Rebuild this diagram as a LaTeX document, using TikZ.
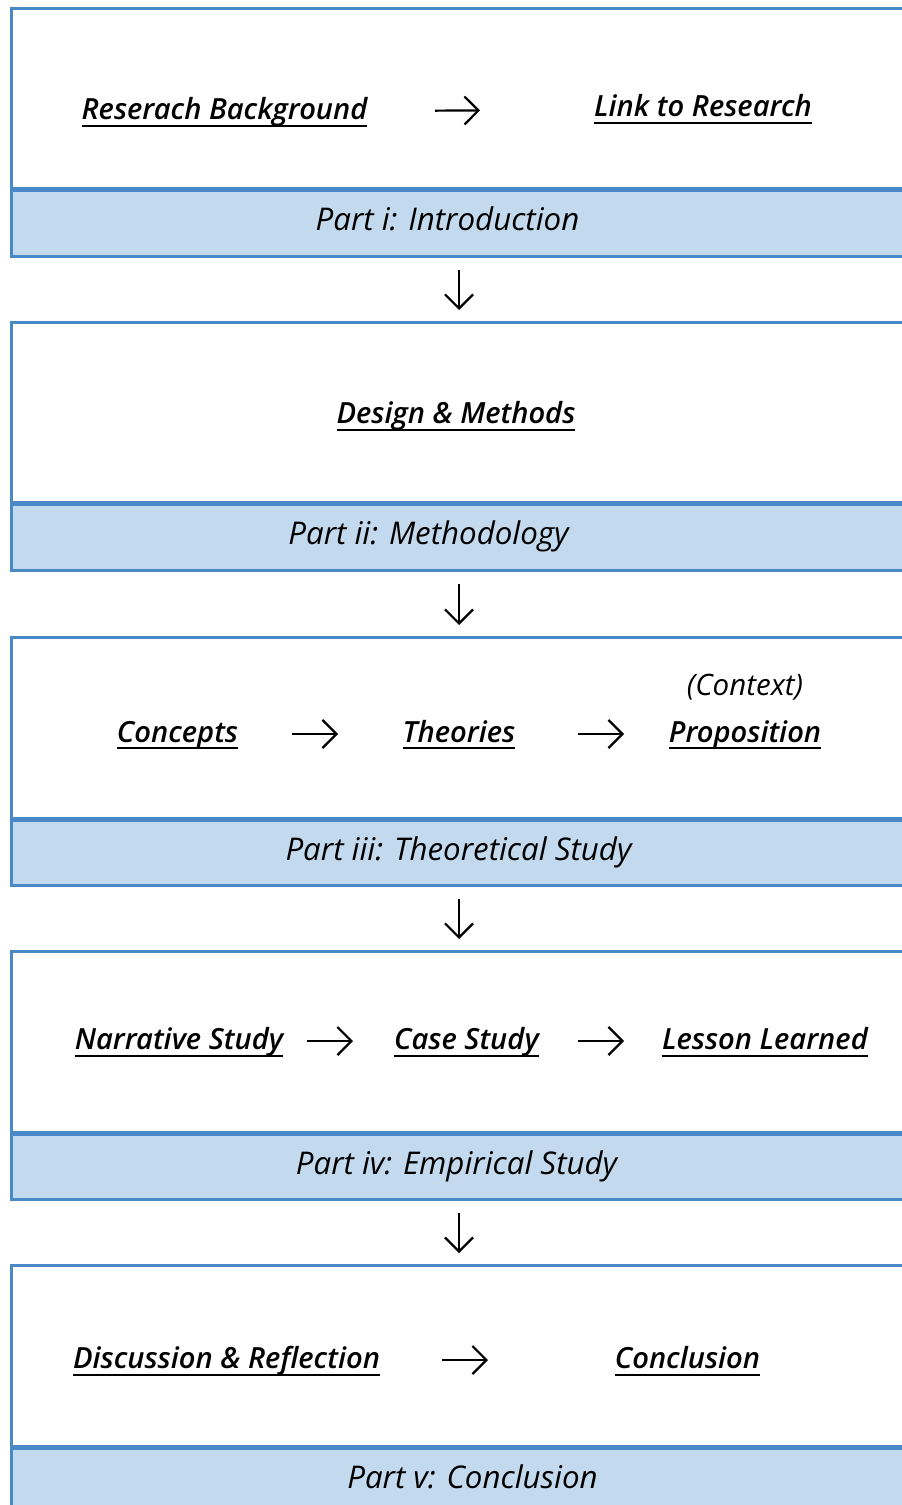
\documentclass[tikz,border=0pt]{standalone}
\usepackage{fontspec}
\setmainfont{Open Sans}[BoldFont={Open Sans Semibold}, BoldItalicFont={Open Sans Semibold Italic}]
\usetikzlibrary{arrows.meta}

\definecolor{frameblue}{HTML}{4A89C8}
\definecolor{bandblue}{HTML}{C3D9EE}

\newsavebox{\ulbox}
\newcommand{\ulabel}[1]{\sbox{\ulbox}{#1}\rlap{\rule[-0.075cm]{\wd\ulbox}{0.02cm}}\usebox{\ulbox}}

\begin{document}
\begin{tikzpicture}[
  frame/.style={draw=frameblue, line width=0.03cm, anchor=north west, inner sep=0pt,
                minimum width=9.2cm, minimum height=2.48cm},
  band/.style={fill=bandblue, anchor=north west, inner sep=0pt,
               minimum width=9.2cm, minimum height=0.65cm},
  sep/.style={draw=frameblue, line width=0.05cm},
  lbl/.style={font=\fontsize{8.3}{10}\selectfont\bfseries\itshape, inner sep=0pt,
              text height=0.22cm, text depth=0.06cm, anchor=base},
  part/.style={font=\fontsize{8.9}{11}\selectfont\itshape, inner sep=0pt, anchor=base},
  flow/.style={-{Straight Barb[length=1.4mm, width=2.8mm]}, line width=0.022cm},
  down/.style={flow, shorten <=0.14cm, shorten >=0.11cm}]
  \useasboundingbox (0,0) rectangle (9.01,-15.05);
  \coordinate (spine) at (4.59,0);

  % part i
  \node[band] (b1) at (0.105,-1.90) {};
  \node[frame] (p1) at (0.105,-0.07) {};
  \draw[sep] (b1.north west) -- (b1.north east);
  \node[part] (t1) at (4.475,-2.31) {Part i: Introduction};
  \node[lbl] (rb) at (2.245,-1.20) {\ulabel{Reserach Background}};
  \node[lbl] (lr) at (7.03,-1.17) {\ulabel{Link to Research}};
  \draw[flow, shorten <=2.105cm, shorten >=2.23cm] (rb.center) -- (lr.center);

  % part ii
  \node[band] (b2) at (0.105,-5.04) {};
  \node[frame] (p2) at (0.105,-3.21) {};
  \draw[sep] (b2.north west) -- (b2.north east);
  \node[part] (t2) at (4.285,-5.45) {Part ii: Methodology};
  \node[lbl] (dm) at (4.56,-4.24) {\ulabel{Design \& Methods}};
  \draw[down] (b1.south -| spine) -- (p2.north -| spine);

  % part iii
  \node[band] (b3) at (0.105,-8.19) {};
  \node[frame] (p3) at (0.105,-6.36) {};
  \draw[sep] (b3.north west) -- (b3.north east);
  \node[part] (t3) at (4.585,-8.60) {Part iii: Theoretical Study};
  \node[lbl] (co) at (1.775,-7.42) {\ulabel{Concepts}};
  \node[lbl] (th) at (4.59,-7.42) {\ulabel{Theories}};
  \node[lbl] (pr) at (7.45,-7.42) {\ulabel{Proposition}};
  \node[part, font=\fontsize{8.4}{10}\selectfont\itshape] (cx) at (7.45,-6.95) {(Context)};
  \draw[flow, shorten <=1.145cm, shorten >=1.21cm] (co.center) -- (th.center);
  \draw[flow, shorten <=1.19cm, shorten >=1.21cm] (th.center) -- (pr.center);
  \draw[down] (b2.south -| spine) -- (p3.north -| spine);

  % part iv
  \node[band] (b4) at (0.105,-11.33) {};
  \node[frame] (p4) at (0.105,-9.50) {};
  \draw[sep] (b4.north west) -- (b4.north east);
  \node[part] (t4) at (4.565,-11.74) {Part iv: Empirical Study};
  \node[lbl] (ns) at (1.79,-10.49) {\ulabel{Narrative Study}};
  \node[lbl] (cs) at (4.665,-10.49) {\ulabel{Case Study}};
  \node[lbl] (ll) at (7.65,-10.49) {\ulabel{Lesson Learned}};
  \draw[flow, shorten <=1.28cm, shorten >=1.135cm] (ns.center) -- (cs.center);
  \draw[flow, shorten <=1.115cm, shorten >=1.41cm] (cs.center) -- (ll.center);
  \draw[down] (b3.south -| spine) -- (p4.north -| spine);

  % part v
  \node[band] (b5) at (0.105,-14.47) {};
  \node[frame] (p5) at (0.105,-12.64) {};
  \draw[sep] (b5.north west) -- (b5.north east);
  \node[part] (t5) at (4.725,-14.88) {Part v: Conclusion};
  \node[lbl] (dr) at (2.265,-13.68) {\ulabel{Discussion \& Reflection}};
  \node[lbl] (cn) at (6.875,-13.68) {\ulabel{Conclusion}};
  \draw[flow, shorten <=2.155cm, shorten >=1.995cm] (dr.center) -- (cn.center);
  \draw[down] (b4.south -| spine) -- (p5.north -| spine);
\end{tikzpicture}
\end{document}
